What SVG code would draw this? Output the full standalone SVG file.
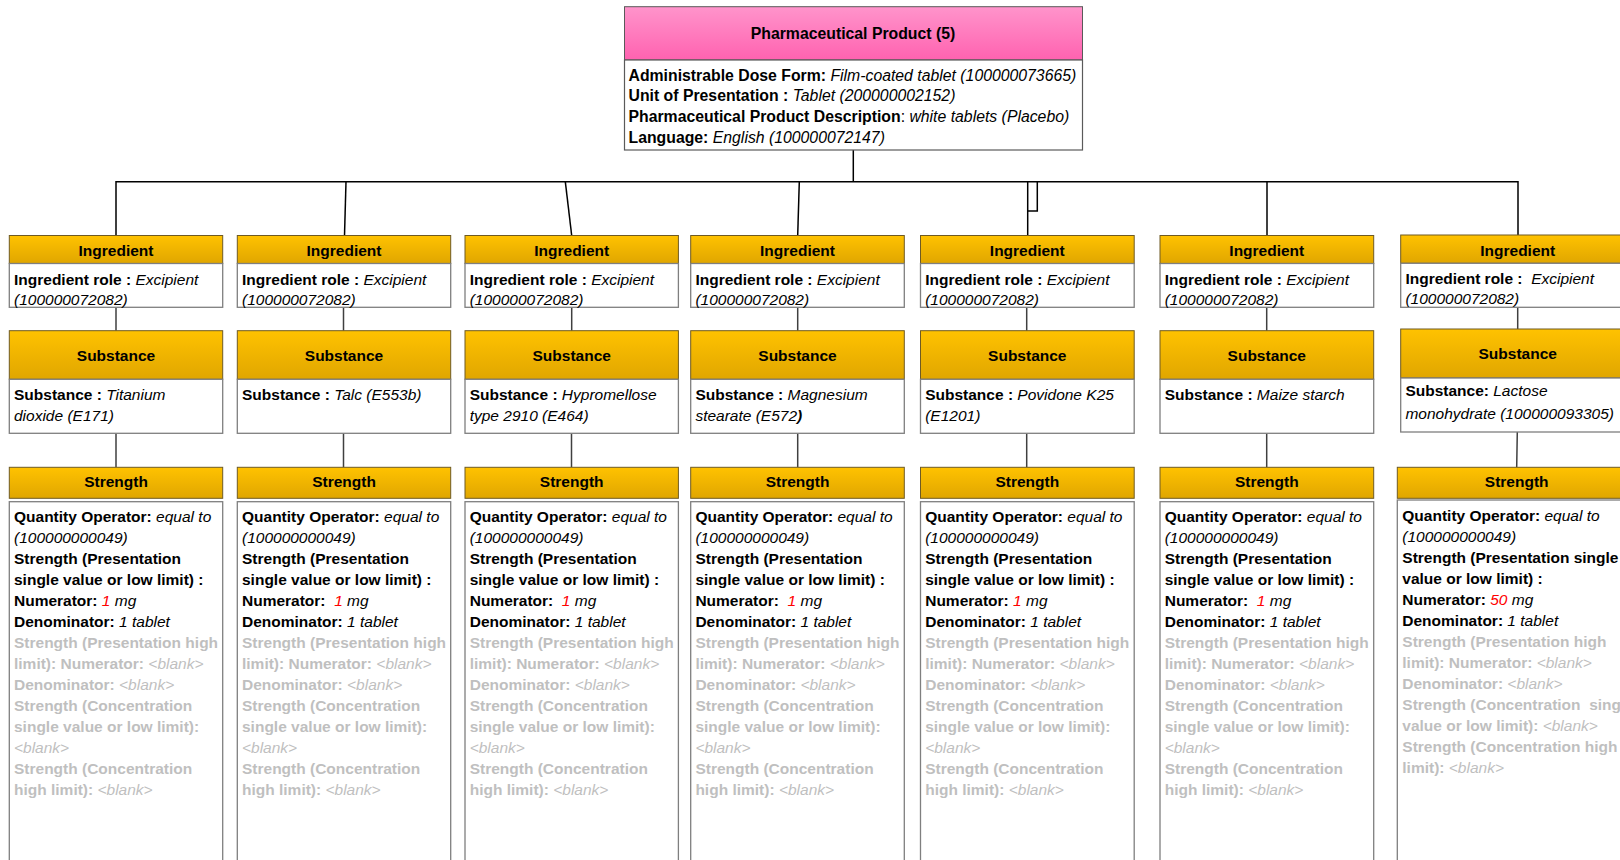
<svg xmlns="http://www.w3.org/2000/svg" width="1620" height="860" viewBox="0 0 1620 860">
<defs>
<linearGradient id="gold" x1="0" y1="0" x2="0" y2="1">
<stop offset="0" stop-color="#FFC200"/>
<stop offset="1" stop-color="#E0A600"/>
</linearGradient>
<linearGradient id="pink" x1="0" y1="0" x2="0" y2="1">
<stop offset="0" stop-color="#FF94CB"/>
<stop offset="1" stop-color="#FF62B0"/>
</linearGradient>
<style>
text{font-family:"Liberation Sans",Arial,sans-serif;font-size:15.5px;fill:#000}
.big{font-size:15.8px}
.hdr{fill:url(#gold);stroke:#6e5a24;stroke-width:1}
.phdr{fill:url(#pink);stroke:#5a5a5a;stroke-width:1}
.body{fill:#fff;stroke:#7f7f7f;stroke-width:1.3}
.pbody{fill:#fff;stroke:#5a5a5a;stroke-width:1.2}
.ht{font-weight:bold;text-anchor:middle}
.b{font-weight:bold}
.i{font-style:italic}
.g{fill:#bfbfbf}
.r{fill:#ff0000}
.conn{stroke:#000;stroke-width:1.5;fill:none}
.link{stroke:#404040;stroke-width:1.5;fill:none}
</style>
</defs>

<g id="connectors">
<path class="conn" d="M853.3,150 V181.7"/>
<path class="conn" d="M116,235.5 V181.7 H1518 V235"/>
<path class="conn" d="M346,181.7 L344.5,235.5"/>
<path class="conn" d="M565.3,181.7 L571.7,235.5"/>
<path class="conn" d="M799.3,181.7 L797.7,235.5"/>
<path class="conn" d="M1027.7,181.7 V235.5"/>
<path class="conn" d="M1037.3,181.7 V211 H1027.7"/>
<path class="conn" d="M1267,181.7 V235.5"/>
<path class="link" d="M116,307.3 V330.7 M343.5,307.3 V330.7 M571.7,307.3 V330.7 M797.7,307.3 V330.7 M1026.7,307.3 V330.7 M1266.7,307.3 V330.7 M1517.7,307.3 V329"/>
<path class="link" d="M116,433.3 V467.3 M343.5,433.3 V467.3 M571.5,433.3 V467.3 M797.7,433.3 V467.3 M1026.7,433.3 V467.3 M1266.7,433.3 V467.3 M1517.3,432 L1516.7,467.3"/>
</g>

<g id="pharmaceutical-product">
<rect class="phdr" x="624.5" y="6.7" width="458" height="53.3"/>
<text class="ht big" x="853" y="39">Pharmaceutical Product (5)</text>
<rect class="pbody" x="624.5" y="60" width="458" height="90"/>
<text class="big" x="628.5" y="80.5"><tspan class="b">Administrable Dose Form: </tspan><tspan class="i">Film-coated tablet (100000073665)</tspan></text>
<text class="big" x="628.5" y="101.2"><tspan class="b">Unit of Presentation : </tspan><tspan class="i">Tablet (200000002152)</tspan></text>
<text class="big" x="628.5" y="121.9"><tspan class="b">Pharmaceutical Product Description</tspan>: <tspan class="i">white tablets (Placebo)</tspan></text>
<text class="big" x="628.5" y="142.6"><tspan class="b">Language: </tspan><tspan class="i">English (100000072147)</tspan></text>
</g>

<!-- Column 1 -->
<g id="ingredient-1" transform="translate(9.3,0)">
<rect class="hdr" x="0" y="235.5" width="213.4" height="28"/>
<text class="ht" x="106.7" y="256">Ingredient</text>
<rect class="body" x="0" y="263.5" width="213.4" height="43.8"/>
<text x="4.7" y="284.5"><tspan class="b">Ingredient role : </tspan><tspan class="i">Excipient</tspan></text>
<text class="i" x="4.7" y="304.5">(100000072082)</text>
</g>
<g id="substance-1" transform="translate(9.3,0)">
<rect class="hdr" x="0" y="330.7" width="213.4" height="48.6"/>
<text class="ht" x="106.7" y="360.7">Substance</text>
<rect class="body" x="0" y="379.3" width="213.4" height="54"/>
<text x="4.7" y="400"><tspan class="b">Substance : </tspan><tspan class="i">Titanium</tspan></text>
<text class="i" x="4.7" y="420.7">dioxide (E171)</text>
</g>
<g id="strength-1" transform="translate(9.3,0)">
<rect class="hdr" x="0" y="467.3" width="213.4" height="31"/>
<text class="ht" x="106.7" y="487.3">Strength</text>
<rect class="body" x="0" y="501.7" width="213.4" height="380"/>
<text x="4.7" y="521.7"><tspan class="b">Quantity Operator: </tspan><tspan class="i">equal to</tspan></text>
<text class="i" x="4.7" y="542.7">(100000000049)</text>
<text class="b" x="4.7" y="563.7">Strength (Presentation</text>
<text class="b" x="4.7" y="584.7">single value or low limit) :</text>
<text x="4.7" y="605.7"><tspan class="b">Numerator: </tspan><tspan class="i r">1</tspan><tspan class="i"> mg</tspan></text>
<text x="4.7" y="626.7"><tspan class="b">Denominator: </tspan><tspan class="i">1 tablet</tspan></text>
<text class="b g" x="4.7" y="647.7">Strength (Presentation high</text>
<text class="g" x="4.7" y="668.7"><tspan class="b">limit): Numerator: </tspan><tspan class="i">&lt;blank&gt;</tspan></text>
<text class="g" x="4.7" y="689.7"><tspan class="b">Denominator: </tspan><tspan class="i">&lt;blank&gt;</tspan></text>
<text class="b g" x="4.7" y="710.7">Strength (Concentration</text>
<text class="b g" x="4.7" y="731.7">single value or low limit):</text>
<text class="i g" x="4.7" y="752.7">&lt;blank&gt;</text>
<text class="b g" x="4.7" y="773.7">Strength (Concentration</text>
<text class="g" x="4.7" y="794.7"><tspan class="b">high limit): </tspan><tspan class="i">&lt;blank&gt;</tspan></text>
</g>

<!-- Column 2 -->
<g id="ingredient-2" transform="translate(237.3,0)">
<rect class="hdr" x="0" y="235.5" width="213.4" height="28"/>
<text class="ht" x="106.7" y="256">Ingredient</text>
<rect class="body" x="0" y="263.5" width="213.4" height="43.8"/>
<text x="4.7" y="284.5"><tspan class="b">Ingredient role : </tspan><tspan class="i">Excipient</tspan></text>
<text class="i" x="4.7" y="304.5">(100000072082)</text>
</g>
<g id="substance-2" transform="translate(237.3,0)">
<rect class="hdr" x="0" y="330.7" width="213.4" height="48.6"/>
<text class="ht" x="106.7" y="360.7">Substance</text>
<rect class="body" x="0" y="379.3" width="213.4" height="54"/>
<text x="4.7" y="400"><tspan class="b">Substance : </tspan><tspan class="i">Talc (E553b)</tspan></text>
</g>
<g id="strength-2" transform="translate(237.3,0)">
<rect class="hdr" x="0" y="467.3" width="213.4" height="31"/>
<text class="ht" x="106.7" y="487.3">Strength</text>
<rect class="body" x="0" y="501.7" width="213.4" height="380"/>
<text x="4.7" y="521.7"><tspan class="b">Quantity Operator: </tspan><tspan class="i">equal to</tspan></text>
<text class="i" x="4.7" y="542.7">(100000000049)</text>
<text class="b" x="4.7" y="563.7">Strength (Presentation</text>
<text class="b" x="4.7" y="584.7">single value or low limit) :</text>
<text x="4.7" y="605.7"><tspan class="b">Numerator: </tspan><tspan class="i r">&#160;1</tspan><tspan class="i"> mg</tspan></text>
<text x="4.7" y="626.7"><tspan class="b">Denominator: </tspan><tspan class="i">1 tablet</tspan></text>
<text class="b g" x="4.7" y="647.7">Strength (Presentation high</text>
<text class="g" x="4.7" y="668.7"><tspan class="b">limit): Numerator: </tspan><tspan class="i">&lt;blank&gt;</tspan></text>
<text class="g" x="4.7" y="689.7"><tspan class="b">Denominator: </tspan><tspan class="i">&lt;blank&gt;</tspan></text>
<text class="b g" x="4.7" y="710.7">Strength (Concentration</text>
<text class="b g" x="4.7" y="731.7">single value or low limit):</text>
<text class="i g" x="4.7" y="752.7">&lt;blank&gt;</text>
<text class="b g" x="4.7" y="773.7">Strength (Concentration</text>
<text class="g" x="4.7" y="794.7"><tspan class="b">high limit): </tspan><tspan class="i">&lt;blank&gt;</tspan></text>
</g>

<!-- Column 3 -->
<g id="ingredient-3" transform="translate(465,0)">
<rect class="hdr" x="0" y="235.5" width="213.4" height="28"/>
<text class="ht" x="106.7" y="256">Ingredient</text>
<rect class="body" x="0" y="263.5" width="213.4" height="43.8"/>
<text x="4.7" y="284.5"><tspan class="b">Ingredient role : </tspan><tspan class="i">Excipient</tspan></text>
<text class="i" x="4.7" y="304.5">(100000072082)</text>
</g>
<g id="substance-3" transform="translate(465,0)">
<rect class="hdr" x="0" y="330.7" width="213.4" height="48.6"/>
<text class="ht" x="106.7" y="360.7">Substance</text>
<rect class="body" x="0" y="379.3" width="213.4" height="54"/>
<text x="4.7" y="400"><tspan class="b">Substance : </tspan><tspan class="i">Hypromellose</tspan></text>
<text class="i" x="4.7" y="420.7">type 2910 (E464)</text>
</g>
<g id="strength-3" transform="translate(465,0)">
<rect class="hdr" x="0" y="467.3" width="213.4" height="31"/>
<text class="ht" x="106.7" y="487.3">Strength</text>
<rect class="body" x="0" y="501.7" width="213.4" height="380"/>
<text x="4.7" y="521.7"><tspan class="b">Quantity Operator: </tspan><tspan class="i">equal to</tspan></text>
<text class="i" x="4.7" y="542.7">(100000000049)</text>
<text class="b" x="4.7" y="563.7">Strength (Presentation</text>
<text class="b" x="4.7" y="584.7">single value or low limit) :</text>
<text x="4.7" y="605.7"><tspan class="b">Numerator: </tspan><tspan class="i r">&#160;1</tspan><tspan class="i"> mg</tspan></text>
<text x="4.7" y="626.7"><tspan class="b">Denominator: </tspan><tspan class="i">1 tablet</tspan></text>
<text class="b g" x="4.7" y="647.7">Strength (Presentation high</text>
<text class="g" x="4.7" y="668.7"><tspan class="b">limit): Numerator: </tspan><tspan class="i">&lt;blank&gt;</tspan></text>
<text class="g" x="4.7" y="689.7"><tspan class="b">Denominator: </tspan><tspan class="i">&lt;blank&gt;</tspan></text>
<text class="b g" x="4.7" y="710.7">Strength (Concentration</text>
<text class="b g" x="4.7" y="731.7">single value or low limit):</text>
<text class="i g" x="4.7" y="752.7">&lt;blank&gt;</text>
<text class="b g" x="4.7" y="773.7">Strength (Concentration</text>
<text class="g" x="4.7" y="794.7"><tspan class="b">high limit): </tspan><tspan class="i">&lt;blank&gt;</tspan></text>
</g>

<!-- Column 4 -->
<g id="ingredient-4" transform="translate(690.7,0)">
<rect class="hdr" x="0" y="235.5" width="213.6" height="28"/>
<text class="ht" x="106.8" y="256">Ingredient</text>
<rect class="body" x="0" y="263.5" width="213.6" height="43.8"/>
<text x="4.7" y="284.5"><tspan class="b">Ingredient role : </tspan><tspan class="i">Excipient</tspan></text>
<text class="i" x="4.7" y="304.5">(100000072082)</text>
</g>
<g id="substance-4" transform="translate(690.7,0)">
<rect class="hdr" x="0" y="330.7" width="213.6" height="48.6"/>
<text class="ht" x="106.8" y="360.7">Substance</text>
<rect class="body" x="0" y="379.3" width="213.6" height="54"/>
<text x="4.7" y="400"><tspan class="b">Substance : </tspan><tspan class="i">Magnesium</tspan></text>
<text class="i" x="4.7" y="420.7">stearate (E572<tspan class="b">)</tspan></text>
</g>
<g id="strength-4" transform="translate(690.7,0)">
<rect class="hdr" x="0" y="467.3" width="213.6" height="31"/>
<text class="ht" x="106.8" y="487.3">Strength</text>
<rect class="body" x="0" y="501.7" width="213.6" height="380"/>
<text x="4.7" y="521.7"><tspan class="b">Quantity Operator: </tspan><tspan class="i">equal to</tspan></text>
<text class="i" x="4.7" y="542.7">(100000000049)</text>
<text class="b" x="4.7" y="563.7">Strength (Presentation</text>
<text class="b" x="4.7" y="584.7">single value or low limit) :</text>
<text x="4.7" y="605.7"><tspan class="b">Numerator: </tspan><tspan class="i r">&#160;1</tspan><tspan class="i"> mg</tspan></text>
<text x="4.7" y="626.7"><tspan class="b">Denominator: </tspan><tspan class="i">1 tablet</tspan></text>
<text class="b g" x="4.7" y="647.7">Strength (Presentation high</text>
<text class="g" x="4.7" y="668.7"><tspan class="b">limit): Numerator: </tspan><tspan class="i">&lt;blank&gt;</tspan></text>
<text class="g" x="4.7" y="689.7"><tspan class="b">Denominator: </tspan><tspan class="i">&lt;blank&gt;</tspan></text>
<text class="b g" x="4.7" y="710.7">Strength (Concentration</text>
<text class="b g" x="4.7" y="731.7">single value or low limit):</text>
<text class="i g" x="4.7" y="752.7">&lt;blank&gt;</text>
<text class="b g" x="4.7" y="773.7">Strength (Concentration</text>
<text class="g" x="4.7" y="794.7"><tspan class="b">high limit): </tspan><tspan class="i">&lt;blank&gt;</tspan></text>
</g>

<!-- Column 5 -->
<g id="ingredient-5" transform="translate(920.5,0)">
<rect class="hdr" x="0" y="235.5" width="213.7" height="28"/>
<text class="ht" x="106.8" y="256">Ingredient</text>
<rect class="body" x="0" y="263.5" width="213.7" height="43.8"/>
<text x="4.7" y="284.5"><tspan class="b">Ingredient role : </tspan><tspan class="i">Excipient</tspan></text>
<text class="i" x="4.7" y="304.5">(100000072082)</text>
</g>
<g id="substance-5" transform="translate(920.5,0)">
<rect class="hdr" x="0" y="330.7" width="213.7" height="48.6"/>
<text class="ht" x="106.8" y="360.7">Substance</text>
<rect class="body" x="0" y="379.3" width="213.7" height="54"/>
<text x="4.7" y="400"><tspan class="b">Substance : </tspan><tspan class="i">Povidone K25</tspan></text>
<text class="i" x="4.7" y="420.7">(E1201)</text>
</g>
<g id="strength-5" transform="translate(920.5,0)">
<rect class="hdr" x="0" y="467.3" width="213.7" height="31"/>
<text class="ht" x="106.8" y="487.3">Strength</text>
<rect class="body" x="0" y="501.7" width="213.7" height="380"/>
<text x="4.7" y="521.7"><tspan class="b">Quantity Operator: </tspan><tspan class="i">equal to</tspan></text>
<text class="i" x="4.7" y="542.7">(100000000049)</text>
<text class="b" x="4.7" y="563.7">Strength (Presentation</text>
<text class="b" x="4.7" y="584.7">single value or low limit) :</text>
<text x="4.7" y="605.7"><tspan class="b">Numerator: </tspan><tspan class="i r">1</tspan><tspan class="i"> mg</tspan></text>
<text x="4.7" y="626.7"><tspan class="b">Denominator: </tspan><tspan class="i">1 tablet</tspan></text>
<text class="b g" x="4.7" y="647.7">Strength (Presentation high</text>
<text class="g" x="4.7" y="668.7"><tspan class="b">limit): Numerator: </tspan><tspan class="i">&lt;blank&gt;</tspan></text>
<text class="g" x="4.7" y="689.7"><tspan class="b">Denominator: </tspan><tspan class="i">&lt;blank&gt;</tspan></text>
<text class="b g" x="4.7" y="710.7">Strength (Concentration</text>
<text class="b g" x="4.7" y="731.7">single value or low limit):</text>
<text class="i g" x="4.7" y="752.7">&lt;blank&gt;</text>
<text class="b g" x="4.7" y="773.7">Strength (Concentration</text>
<text class="g" x="4.7" y="794.7"><tspan class="b">high limit): </tspan><tspan class="i">&lt;blank&gt;</tspan></text>
</g>

<!-- Column 6 -->
<g id="ingredient-6" transform="translate(1160,0)">
<rect class="hdr" x="0" y="235.5" width="213.7" height="28"/>
<text class="ht" x="106.8" y="256">Ingredient</text>
<rect class="body" x="0" y="263.5" width="213.7" height="43.8"/>
<text x="4.7" y="284.5"><tspan class="b">Ingredient role : </tspan><tspan class="i">Excipient</tspan></text>
<text class="i" x="4.7" y="304.5">(100000072082)</text>
</g>
<g id="substance-6" transform="translate(1160,0)">
<rect class="hdr" x="0" y="330.7" width="213.7" height="48.6"/>
<text class="ht" x="106.8" y="360.7">Substance</text>
<rect class="body" x="0" y="379.3" width="213.7" height="54"/>
<text x="4.7" y="400"><tspan class="b">Substance : </tspan><tspan class="i">Maize starch</tspan></text>
</g>
<g id="strength-6" transform="translate(1160,0)">
<rect class="hdr" x="0" y="467.3" width="213.7" height="31"/>
<text class="ht" x="106.8" y="487.3">Strength</text>
<rect class="body" x="0" y="501.7" width="213.7" height="380"/>
<text x="4.7" y="521.7"><tspan class="b">Quantity Operator: </tspan><tspan class="i">equal to</tspan></text>
<text class="i" x="4.7" y="542.7">(100000000049)</text>
<text class="b" x="4.7" y="563.7">Strength (Presentation</text>
<text class="b" x="4.7" y="584.7">single value or low limit) :</text>
<text x="4.7" y="605.7"><tspan class="b">Numerator: </tspan><tspan class="i r">&#160;1</tspan><tspan class="i"> mg</tspan></text>
<text x="4.7" y="626.7"><tspan class="b">Denominator: </tspan><tspan class="i">1 tablet</tspan></text>
<text class="b g" x="4.7" y="647.7">Strength (Presentation high</text>
<text class="g" x="4.7" y="668.7"><tspan class="b">limit): Numerator: </tspan><tspan class="i">&lt;blank&gt;</tspan></text>
<text class="g" x="4.7" y="689.7"><tspan class="b">Denominator: </tspan><tspan class="i">&lt;blank&gt;</tspan></text>
<text class="b g" x="4.7" y="710.7">Strength (Concentration</text>
<text class="b g" x="4.7" y="731.7">single value or low limit):</text>
<text class="i g" x="4.7" y="752.7">&lt;blank&gt;</text>
<text class="b g" x="4.7" y="773.7">Strength (Concentration</text>
<text class="g" x="4.7" y="794.7"><tspan class="b">high limit): </tspan><tspan class="i">&lt;blank&gt;</tspan></text>
</g>

<!-- Column 7 -->
<g id="ingredient-7" transform="translate(1400.7,0)">
<rect class="hdr" x="0" y="235" width="234" height="28.3"/>
<text class="ht" x="117" y="255.5">Ingredient</text>
<rect class="body" x="0" y="263.3" width="234" height="44"/>
<text x="4.7" y="283.8"><tspan class="b">Ingredient role : </tspan><tspan class="i">&#160;Excipient</tspan></text>
<text class="i" x="4.7" y="303.8">(100000072082)</text>
</g>
<g id="substance-7" transform="translate(1400.7,0)">
<rect class="hdr" x="0" y="329" width="234" height="49"/>
<text class="ht" x="117" y="358.5">Substance</text>
<rect class="body" x="0" y="378" width="234" height="54"/>
<text x="4.7" y="396"><tspan class="b">Substance: </tspan><tspan class="i">Lactose</tspan></text>
<text class="i" x="4.7" y="418.5">monohydrate (100000093305)</text>
</g>
<g id="strength-7" transform="translate(1397.3,0)">
<rect class="hdr" x="0" y="467.3" width="238" height="31"/>
<text class="ht" x="119.4" y="487.3">Strength</text>
<rect class="body" x="0" y="500" width="238" height="380"/>
<text x="5" y="521"><tspan class="b">Quantity Operator: </tspan><tspan class="i">equal to</tspan></text>
<text class="i" x="5" y="542">(100000000049)</text>
<text class="b" x="5" y="563">Strength (Presentation single</text>
<text class="b" x="5" y="584">value or low limit) :</text>
<text x="5" y="605"><tspan class="b">Numerator: </tspan><tspan class="i r">50</tspan><tspan class="i"> mg</tspan></text>
<text x="5" y="626"><tspan class="b">Denominator: </tspan><tspan class="i">1 tablet</tspan></text>
<text class="b g" x="5" y="647">Strength (Presentation high</text>
<text class="g" x="5" y="668"><tspan class="b">limit): Numerator: </tspan><tspan class="i">&lt;blank&gt;</tspan></text>
<text class="g" x="5" y="689"><tspan class="b">Denominator: </tspan><tspan class="i">&lt;blank&gt;</tspan></text>
<text class="b g" x="5" y="710">Strength (Concentration&#160; single</text>
<text class="g" x="5" y="731"><tspan class="b">value or low limit): </tspan><tspan class="i">&lt;blank&gt;</tspan></text>
<text class="b g" x="5" y="752">Strength (Concentration high</text>
<text class="g" x="5" y="773"><tspan class="b">limit): </tspan><tspan class="i">&lt;blank&gt;</tspan></text>
</g>
</svg>
